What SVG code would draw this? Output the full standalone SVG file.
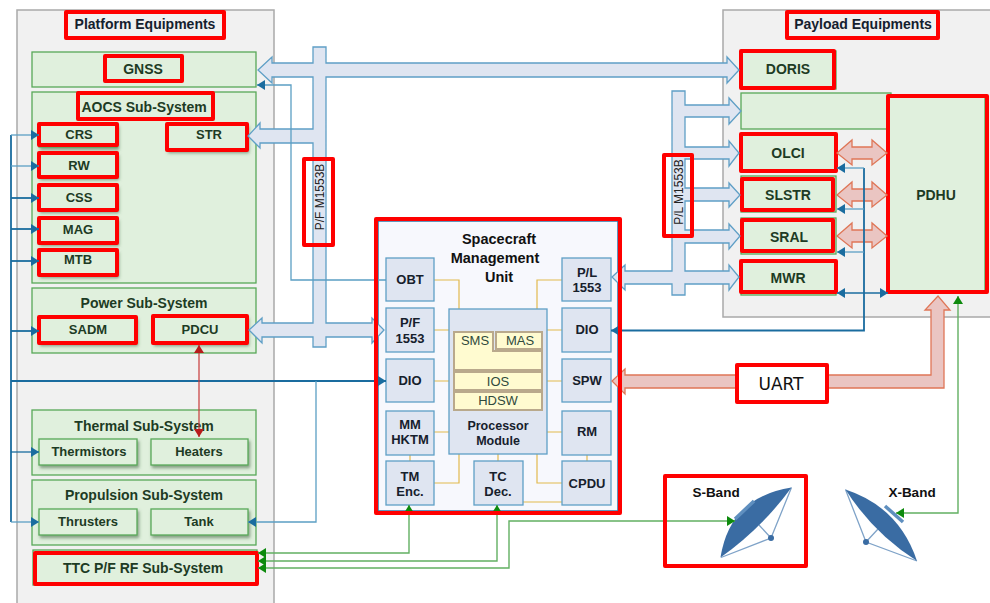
<svg xmlns="http://www.w3.org/2000/svg" width="990" height="603" viewBox="0 0 990 603">
<defs>
<style>
text{font-family:"Liberation Sans",Arial,sans-serif;text-anchor:middle}
.panel{fill:#f1f1f1;stroke:#a9a9a9;stroke-width:1.5}
.g{fill:#e0f0dd;stroke:#58a858;stroke-width:1.3}
.gs{fill:#e0f0dd;stroke:#58a858;stroke-width:1.3;filter:url(#sh)}
.red{fill:none;stroke:#ff0000;stroke-width:4;stroke-linejoin:round}
.t{font-size:14px;font-weight:bold;fill:#1d3b24}
.ts{font-size:13px;font-weight:bold;fill:#1d3b24}
.h{font-size:14px;font-weight:bold;fill:#14202e}
.u{fill:#dfe5f1;stroke:#5f9fc6;stroke-width:1.3}
.ut{font-size:13px;font-weight:bold;fill:#16202c}
.y{fill:#fffbd0;stroke:#b9a98c;stroke-width:2}
.yt{font-size:13px;fill:#2f4a3c}
.bus{fill:#dfe5f1;stroke:#5f9fc6;stroke-width:1.3}
.pink{fill:#eac5c2;stroke:#df7657;stroke-width:1.3}
.l{fill:none}
.bd{stroke:#1a6c9f;stroke-width:1.8}
.bl{stroke:#5b9fc4;stroke-width:1.3}
.gl{stroke:#62b062;stroke-width:1.4}
.yl{stroke:#e2b94f;stroke-width:1.2;fill:none}
.rl{stroke:#c83a3a;stroke-width:1.2}
.dish{fill:#3a6ca3}
.dl{fill:none;stroke:#7fa3c8;stroke-width:1.3}
.df{fill:none;stroke:#5f8fbf;stroke-width:3.5}
</style>
<filter id="sh" x="-15%" y="-25%" width="130%" height="160%"><feDropShadow dx="1.5" dy="2.5" stdDeviation="1.5" flood-color="#3b5b3b" flood-opacity="0.55"/></filter>
<marker id="ab" markerUnits="userSpaceOnUse" markerWidth="9" markerHeight="10" refX="8" refY="5" orient="auto-start-reverse"><path d="M0,0L8,5L0,10Z" fill="#1a6c9f"/></marker>
<marker id="ag" markerUnits="userSpaceOnUse" markerWidth="9" markerHeight="10" refX="8" refY="5" orient="auto-start-reverse"><path d="M0,0L8,5L0,10Z" fill="#0d8a0d"/></marker>
<marker id="ar" markerUnits="userSpaceOnUse" markerWidth="9" markerHeight="10" refX="8" refY="5" orient="auto-start-reverse"><path d="M0,0L8,5L0,10Z" fill="#b81c1c"/></marker>
</defs>
<rect width="990" height="603" fill="#fff"/>
<g id="panels">
<path class="panel" d="M274,603V10H17V603"/>
<path class="panel" d="M990,10H723V317H990"/>
</g>
<g id="platform-title"><rect class="red" x="66" y="12" width="158" height="26"/><text class="h" x="145" y="29">Platform Equipments</text></g>
<g id="gnss"><rect class="g" x="32" y="52" width="224" height="35"/><rect class="red" x="105" y="56" width="77" height="25"/><text class="t" x="143" y="74">GNSS</text></g>
<g id="aocs"><rect class="g" x="32" y="92" width="224" height="191"/><rect class="red" x="78" y="93" width="135" height="26"/><text class="t" x="144" y="112">AOCS Sub-System</text></g>
<g id="crs"><rect class="gs" x="39" y="124" width="78" height="23"/><rect class="red" x="39" y="124" width="78" height="21"/><text class="ts" x="79" y="139">CRS</text></g>
<g id="rw"><rect class="gs" x="39" y="153" width="78" height="24"/><rect class="red" x="39" y="153" width="78" height="24"/><text class="ts" x="79" y="170">RW</text></g>
<g id="css"><rect class="gs" x="39" y="185" width="78" height="25"/><rect class="red" x="39" y="185" width="78" height="25"/><text class="ts" x="79" y="202">CSS</text></g>
<g id="mag"><rect class="gs" x="39" y="218" width="78" height="25"/><rect class="red" x="39" y="218" width="78" height="25"/><text class="ts" x="78" y="234">MAG</text></g>
<g id="mtb"><rect class="gs" x="39" y="250" width="78" height="25"/><rect class="red" x="39" y="250" width="78" height="25"/><text class="ts" x="78" y="264">MTB</text></g>
<g id="str"><rect class="gs" x="167" y="124" width="80" height="26"/><rect class="red" x="167" y="124" width="80" height="26"/><text class="ts" x="209" y="139">STR</text></g>
<g id="power"><rect class="g" x="32" y="288" width="224" height="65"/><text class="t" x="144" y="308">Power Sub-System</text></g>
<g id="sadm"><rect class="gs" x="39" y="317" width="97" height="26"/><rect class="red" x="39" y="317" width="97" height="26"/><text class="ts" x="88" y="334">SADM</text></g>
<g id="pdcu"><rect class="gs" x="153" y="316" width="94" height="27"/><rect class="red" x="153" y="316" width="94" height="27"/><text class="ts" x="200" y="334">PDCU</text></g>
<g id="thermal"><rect class="g" x="32" y="410" width="224" height="65"/><text class="t" x="144" y="431">Thermal Sub-System</text></g>
<g id="thermistors"><rect class="gs" x="39" y="439" width="98" height="26"/><text class="ts" x="89" y="456">Thermistors</text></g>
<g id="heaters"><rect class="gs" x="151" y="439" width="97" height="26"/><text class="ts" x="199" y="456">Heaters</text></g>
<g id="propulsion"><rect class="g" x="32" y="480" width="224" height="65"/><text class="t" x="144" y="500">Propulsion Sub-System</text></g>
<g id="thrusters"><rect class="gs" x="39" y="509" width="98" height="26"/><text class="ts" x="88" y="526">Thrusters</text></g>
<g id="tank"><rect class="gs" x="151" y="509" width="97" height="26"/><text class="ts" x="199" y="526">Tank</text></g>
<g id="ttc"><rect class="g" x="33" y="550" width="224" height="35"/><rect class="red" x="35" y="553" width="222" height="31"/><text class="t" x="143" y="573">TTC P/F RF Sub-System</text></g>
<g id="smu">
<rect x="378" y="221" width="240" height="290" fill="#f7f8fd" stroke="#2f75a8" stroke-width="1.5"/>
<path class="yl" d="M434,280H459V309M562,280H537V309M434,330H449M434,381H449M434,432H449M547,330H562M547,381H562M547,432H562M434,483H459V454M562,483H537V454M498,454V461M410,455V461M587,455V461M523,502H562"/>
<text class="h" x="499" y="244" style="font-size:14.500px;fill:#111">Spacecraft</text>
<text class="h" x="495" y="263" style="font-size:14.500px;fill:#111">Management</text>
<text class="h" x="499" y="282" style="font-size:14.500px;fill:#111">Unit</text>
</g>
<g id="obt"><rect class="u" x="386" y="258" width="48" height="43"/><text class="ut" x="410" y="284">OBT</text></g>
<g id="pf1553"><rect class="u" x="386" y="308" width="48" height="44"/><text class="ut" x="410" y="327">P/F</text><text class="ut" x="410" y="343">1553</text></g>
<g id="dio-left"><rect class="u" x="386" y="359" width="48" height="43"/><text class="ut" x="410" y="385">DIO</text></g>
<g id="mm-hktm"><rect class="u" x="386" y="411" width="48" height="44"/><text class="ut" x="410" y="429">MM</text><text class="ut" x="410" y="444">HKTM</text></g>
<g id="tm-enc"><rect class="u" x="386" y="461" width="48" height="44"/><text class="ut" x="410" y="481">TM</text><text class="ut" x="410" y="496">Enc.</text></g>
<g id="pl1553"><rect class="u" x="562" y="258" width="49" height="43"/><text class="ut" x="587" y="277">P/L</text><text class="ut" x="587" y="292">1553</text></g>
<g id="dio-right"><rect class="u" x="562" y="308" width="49" height="44"/><text class="ut" x="587" y="334">DIO</text></g>
<g id="spw"><rect class="u" x="562" y="359" width="49" height="43"/><text class="ut" x="587" y="385">SPW</text></g>
<g id="rm"><rect class="u" x="562" y="411" width="49" height="44"/><text class="ut" x="587" y="436">RM</text></g>
<g id="cpdu"><rect class="u" x="562" y="461" width="49" height="44"/><text class="ut" x="587" y="488">CPDU</text></g>
<g id="tc-dec"><rect class="u" x="474" y="461" width="49" height="44"/><text class="ut" x="498" y="481">TC</text><text class="ut" x="498" y="496">Dec.</text></g>
<g id="processor">
<rect class="u" x="449" y="309" width="98" height="145"/>
<path class="y" d="M454,332H493V351H542V370H454Z"/>
<rect class="y" x="496" y="332" width="46" height="17"/>
<text class="yt" x="475" y="345">SMS</text><text class="yt" x="520" y="345">MAS</text>
<rect class="y" x="454" y="372" width="88" height="18"/><text class="yt" x="498" y="386">IOS</text>
<rect class="y" x="454" y="392" width="88" height="18"/><text class="yt" x="498" y="405">HDSW</text>
<text class="ut" style="font-size:12.500px" x="498" y="430">Processor</text><text class="ut" style="font-size:12.500px" x="498" y="445">Module</text>
</g>
<g id="payload-title"><rect class="red" x="787" y="12" width="151" height="26"/><text class="h" x="863" y="29">Payload Equipments</text></g>
<g id="blank-unit"><rect class="g" x="741" y="93" width="150" height="36"/></g>
<g id="doris"><rect class="g" x="741" y="51" width="95" height="38"/><rect class="red" x="741" y="51" width="93" height="37"/><text class="t" x="788" y="74">DORIS</text></g>
<g id="olci"><rect class="g" x="741" y="134" width="95" height="38"/><rect class="red" x="741" y="134" width="95" height="37"/><text class="t" x="788" y="158">OLCI</text></g>
<g id="slstr"><rect class="g" x="741" y="176" width="95" height="36"/><rect class="red" x="742" y="179" width="91" height="31"/><text class="t" x="788" y="200">SLSTR</text></g>
<g id="sral"><rect class="g" x="741" y="218" width="95" height="36"/><rect class="red" x="742" y="220" width="91" height="31"/><text class="t" x="789" y="242">SRAL</text></g>
<g id="mwr"><rect class="g" x="741" y="261" width="95" height="34"/><rect class="red" x="741" y="261" width="95" height="31"/><text class="t" x="788" y="283">MWR</text></g>
<g id="pdhu"><rect class="g" x="889" y="96" width="96" height="196"/><rect class="red" x="888" y="96" width="99" height="196"/><text class="t" x="936" y="200">PDHU</text></g>
<g id="x-band">
<text font-size="13.500" font-weight="bold" fill="#111" x="912" y="497">X-Band</text>
<path class="dl" d="M845.500,489.500L866,542L917,561M866,542L878,529"/>
<path class="dish" d="M845.500,489.500Q899,507 917,561Q873,533 845.500,489.500Z"/>
<path class="df" d="M885,506L903,522"/>
<circle cx="866" cy="542" r="3" fill="#3a6ca3"/>
</g>
<g id="s-band-antenna">
<text font-size="13.500" font-weight="bold" fill="#111" x="716" y="497">S-Band</text>
<path class="dl" d="M791.500,487.500L771,538L721,557.500M771,538L759,525"/>
<path class="dish" d="M791.500,487.500Q730,497 720.500,557.500Q762,528 791.500,487.500Z"/>
<path class="df" d="M735,519L754,501"/>
<circle cx="771" cy="538" r="3" fill="#3a6ca3"/>
</g>
<g id="connectors">
<path class="bus" d="M313,47H326V63H727V57L739,70L727,83V77H326V323H372V318L384,330L372,343V337H326V347H313V337H262V343L249,330L262,318V323H313V143H260V148L248,136L260,123V129H313V77H272V83L258,70L272,57V63H313Z"/>
<path class="bus" d="M672,91H685V105H729V98L741,111L729,124V117H685V147H729V141L739,153L729,166V159H685V188H729V183L740,195L729,207V201H685V230H729V224L740,236L729,249V243H685V271H729V265L739,277L729,290V284H685V295H672V284H625V290L612,277L625,265V271H672Z"/>
<path class="pink" d="M625,375H931V310H925L938,296L950,310H944V388H625V394L612,381L625,369Z"/>
<path class="pink" d="M837,153L852,140V147H872V140L887,153L872,165V159H852V165Z"/>
<path class="pink" d="M837,195L852,182V189H872V182L887,195L872,207V201H852V207Z"/>
<path class="pink" d="M837,236L852,223V230H872V223L887,236L872,248V242H852V248Z"/>
<path class="l bd" d="M11,135V522"/>
<path class="l bl" d="M11,135H39" marker-end="url(#ab)"/>
<path class="l bl" d="M11,166H39" marker-end="url(#ab)"/>
<path class="l bd" d="M11,198H39" marker-end="url(#ab)"/>
<path class="l bd" d="M11,229H39" marker-end="url(#ab)"/>
<path class="l bd" d="M11,261H39" marker-end="url(#ab)"/>
<path class="l bd" d="M11,331H39" marker-end="url(#ab)"/>
<path class="l bd" d="M11,452H39" style="stroke-width:1.3" marker-end="url(#ab)"/>
<path class="l bl" d="M11,522H39" marker-end="url(#ab)"/>
<path class="l bd" d="M11,381H386" marker-end="url(#ab)"/>
<path class="l bl" d="M316,381V522H248" marker-end="url(#ab)"/>
<path class="l bl" d="M386,280H291V85H257" marker-end="url(#ab)"/>
<path class="l bd" d="M864,168V330.500H611" marker-end="url(#ab)"/>
<path class="l bl" d="M864,168H837" marker-end="url(#ab)"/>
<path class="l bl" d="M864,209H837" marker-end="url(#ab)"/>
<path class="l bl" d="M864,252H837" marker-end="url(#ab)"/>
<path class="l bd" d="M837,293H888" style="stroke-width:1.3" marker-start="url(#ab)" marker-end="url(#ab)"/>
<path class="l rl" d="M199,345V437" marker-start="url(#ar)" marker-end="url(#ar)"/>
<path class="l gl" d="M409,505V553H258" marker-start="url(#ag)" marker-end="url(#ag)"/>
<path class="l gl" d="M497,505V561H258" marker-start="url(#ag)" marker-end="url(#ag)"/>
<path class="l gl" d="M735,521H509V568H258" marker-start="url(#ag)" marker-end="url(#ag)"/>
<path class="l gl" d="M958,296V513H896" marker-start="url(#ag)" marker-end="url(#ag)"/>
</g>
<g id="pf-bus-label"><rect class="red" x="304" y="159" width="29" height="86"/><text font-size="12" fill="#222" transform="translate(324,197) rotate(-90)">P/F M1553B</text></g>
<g id="pl-bus-label"><rect class="red" x="664" y="155" width="28" height="81"/><text font-size="12" fill="#222" transform="translate(683,192) rotate(-90)">P/L M1553B</text></g>
<g id="smu-frame"><rect class="red" x="376" y="219" width="244" height="294"/></g>
<g id="s-band-frame"><rect class="red" x="665" y="476" width="141" height="90"/></g>
<g id="uart"><rect x="737" y="365" width="90" height="37" fill="#fff"/><rect class="red" x="737" y="365" width="90" height="37"/><text x="781" y="390" fill="#111" style="font-family:'DejaVu Sans',sans-serif;font-size:17px">UART</text></g>
</svg>
